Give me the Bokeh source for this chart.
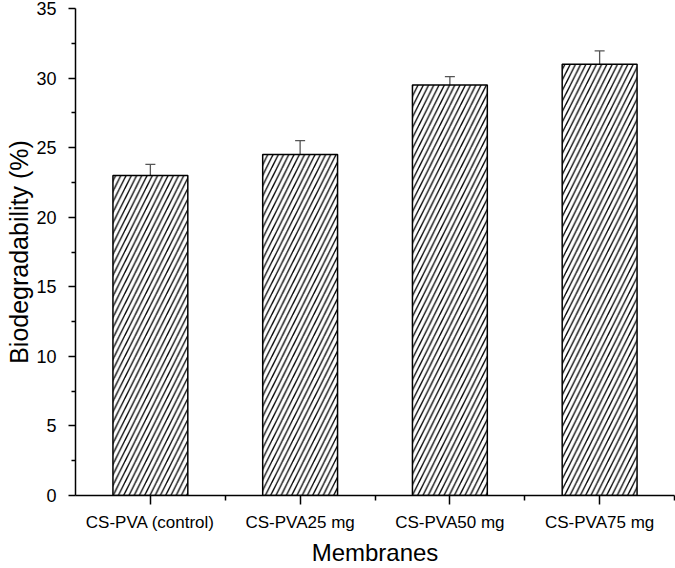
from bokeh.plotting import figure
from bokeh.models import ColumnDataSource, FixedTicker, Range1d, Whisker, TeeHead
from bokeh.embed import file_html
from bokeh.resources import INLINE

categories = ["CS-PVA (control)", "CS-PVA25 mg", "CS-PVA50 mg", "CS-PVA75 mg"]
values = [23.0, 24.5, 29.5, 31.0]
errors = [0.8, 1.0, 0.6, 0.95]
y_ticks = [0, 5, 10, 15, 20, 25, 30, 35]

xs = list(range(1, len(categories) + 1))
src = ColumnDataSource(dict(
    x=xs, top=values,
    upper=[v + e for v, e in zip(values, errors)],
    lower=[v - e for v, e in zip(values, errors)],
))

FONT = "Liberation Sans"

p = figure(width=675, height=568, output_backend="svg", toolbar_location=None,
           x_range=Range1d(0.5, 4.5), y_range=Range1d(0, 35),
           min_border_left=75, min_border_right=1, min_border_top=8, min_border_bottom=73)
p.outline_line_color = None
p.grid.grid_line_color = None
p.background_fill_color = "white"
p.border_fill_color = "white"

p.vbar(x="x", top="top", width=0.5, source=src, fill_color="white",
       line_color="black", line_width=1.5,
       hatch_pattern="/", hatch_color="black", hatch_scale=10.5, hatch_weight=1.3)

w = Whisker(base="x", upper="upper", lower="lower", source=src,
            line_color="#555555", line_width=1.3,
            upper_head=TeeHead(size=10, line_color="#555555", line_width=1.3),
            lower_head=TeeHead(size=10, line_color="#555555", line_width=1.3))
p.add_layout(w)

# y axis
ya = p.yaxis[0]
ya.ticker = FixedTicker(ticks=y_ticks, minor_ticks=[t + 2.5 for t in y_ticks[:-1]])
ya.axis_label = "Biodegradability (%)"
ya.axis_label_text_font = FONT
ya.axis_label_text_font_size = "25px"
ya.axis_label_text_font_style = "normal"
ya.axis_label_text_color = "black"
ya.axis_label_standoff = 0
ya.major_label_text_font = FONT
ya.major_label_text_font_size = "18px"
ya.major_label_text_color = "black"
ya.major_label_standoff = 12
ya.major_tick_in = 0
ya.major_tick_out = 7
ya.minor_tick_in = 0
ya.minor_tick_out = 4
ya.axis_line_width = 1.5
ya.major_tick_line_width = 1.5
ya.minor_tick_line_width = 1.5

# x axis
xa = p.xaxis[0]
xa.ticker = FixedTicker(ticks=xs, minor_ticks=[1.5, 2.5, 3.5, 4.5])
xa.major_label_overrides = {i: c for i, c in zip(xs, categories)}
xa.axis_label = "Membranes"
xa.axis_label_text_font = FONT
xa.axis_label_text_font_size = "24px"
xa.axis_label_text_font_style = "normal"
xa.axis_label_text_color = "black"
xa.axis_label_standoff = 4
xa.major_label_text_font = FONT
xa.major_label_text_font_size = "17px"
xa.major_label_text_color = "black"
xa.major_label_standoff = 8
xa.major_tick_in = 0
xa.major_tick_out = 9
xa.minor_tick_in = 0
xa.minor_tick_out = 5
xa.axis_line_width = 1.5
xa.major_tick_line_width = 1.5
xa.minor_tick_line_width = 1.5

open("out.html", "w").write(file_html(p, INLINE))
